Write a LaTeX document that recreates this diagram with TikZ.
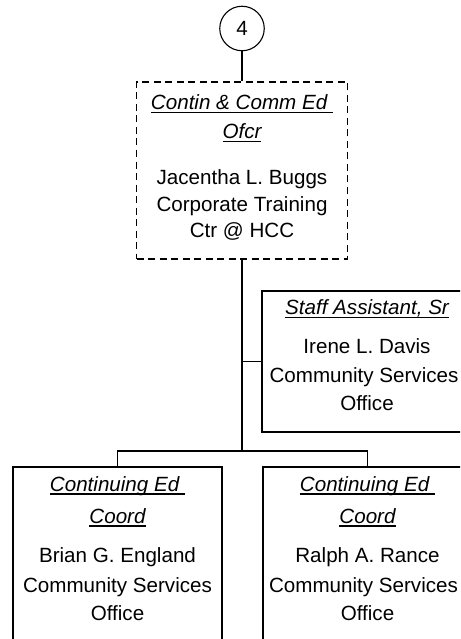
\documentclass[tikz,border=0pt]{standalone}
\usepackage{fontspec}
\setmainfont{Liberation Sans}
\usetikzlibrary{shapes.geometric}
\newcommand{\myul}[1]{\setbox0=\hbox{#1}\rlap{\rule[-3.6pt]{\wd0}{1.3pt}}\box0}
\tikzset{
  box/.style={draw=black, line width=1.2pt, rectangle, inner sep=0pt},
  dbox/.style={box, dash pattern=on 7pt off 4.5pt},
  ln/.style={anchor=base, inner sep=0pt, font=\fontsize{20.6}{26}\selectfont},
  tl/.style={ln, font=\fontsize{20.6}{26}\selectfont\itshape},
  conn/.style={draw=black, line width=1.2pt}
}
\begin{document}
\begin{tikzpicture}[x=1pt, y=-1pt]
\clip (0,0) rectangle (460,639);
\fill[white] (0,0) rectangle (460,639);
% connector circle
\node[draw=black, line width=1.1pt, circle, minimum size=44.5pt, inner sep=0pt, font=\fontsize{20.6}{26}\selectfont] (c4) at (242,28.5) {4};
% boxes
\node[dbox, minimum width=211pt, minimum height=177pt] (top) at (242,170.5) {};
\node[box, minimum width=210pt, minimum height=141pt] (staff) at (367,361.5) {};
\node[box, minimum width=209pt, minimum height=213pt] (L) at (117.5,573.5) {};
\node[box, minimum width=209pt, minimum height=213pt] (R) at (367.5,573.5) {};
\coordinate (bus) at (242,451);
% connectors
\draw[conn] (c4.south) -- (top.north);
\draw[conn] (top.south) -- (bus);
\draw[conn] (top.south |- staff.west) -- (staff.west);
\draw[conn] (L.north) |- (bus) -| (R.north);
% top box text
\node[tl] (t1) at (242,109.5) {\myul{Contin \& Comm Ed\ }};
\node[tl] (t2) at (242,138.5) {\myul{Ofcr}};
\node[ln] (t3) at (242,185) {Jacentha L. Buggs};
\node[ln] (t4) at (242,211) {Corporate Training};
\node[ln] (t5) at (242,237) {Ctr @ HCC};
% staff box text
\node[tl] (s1) at (367,314.5) {\myul{Staff Assistant, Sr}};
\node[ln] (s2) at (367,353.5) {Irene L. Davis};
\node[ln] (s3) at (364,382) {Community Services};
\node[ln] (s4) at (367,410.5) {Office};
% left bottom box text
\node[tl] (l1) at (117.5,491) {\myul{Continuing Ed\ }};
\node[tl] (l2) at (117.5,523) {\myul{Coord}};
\node[ln] (l3) at (117.5,562) {Brian G. England};
\node[ln] (l4) at (117.5,592) {Community Services};
\node[ln] (l5) at (117.5,620.5) {Office};
% right bottom box text
\node[tl] (r1) at (367.5,491) {\myul{Continuing Ed\ }};
\node[tl] (r2) at (367.5,523) {\myul{Coord}};
\node[ln] (r3) at (367.5,562) {Ralph A. Rance};
\node[ln] (r4) at (363.5,592) {Community Services};
\node[ln] (r5) at (367.5,620.5) {Office};
\end{tikzpicture}
\end{document}
